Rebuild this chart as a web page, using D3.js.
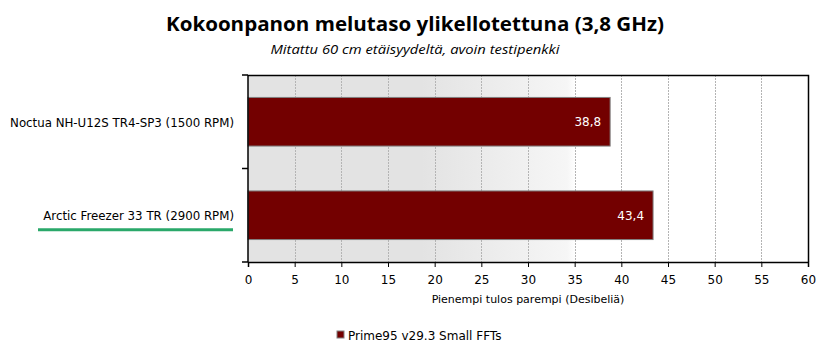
<!DOCTYPE html>
<html><head><meta charset="utf-8">
<script src="https://cdn.jsdelivr.net/npm/d3@7"></script>
<style>body{margin:0;background:#fff}svg{display:block}</style>
</head><body>
<svg id="c" width="830" height="358"></svg>
<script>
const categories = ["Noctua NH-U12S TR4-SP3 (1500 RPM)", "Arctic Freezer 33 TR (2900 RPM)"];
const values = [38.8, 43.4];
const valueLabels = ["38,8", "43,4"];
const xTicks = [0,5,10,15,20,25,30,35,40,45,50,55,60];
const seriesName = "Prime95 v29.3 Small FFTs";
const titleText = "Kokoonpanon melutaso ylikellotettuna (3,8 GHz)";
const subtitleText = "Mitattu 60 cm etäisyydeltä, avoin testipenkki";
const xTitle = "Pienempi tulos parempi (Desibeliä)";
const highlighted = "Arctic Freezer 33 TR (2900 RPM)";

const svg = d3.select("#c");
const m = {l:248, r:808, t:75, b:262};
const font = "'DejaVu Sans', sans-serif";
const x = d3.scaleLinear().domain([0,60]).range([m.l, m.r]);
const y = d3.scaleBand().domain(categories).range([m.t, m.b]).paddingInner(0.48).paddingOuter(0.24);
const yb = d3.scaleBand().domain(categories).range([m.t, m.b]);

const defs = svg.append("defs");
const g = defs.append("linearGradient").attr("id","bg").attr("x1","0").attr("x2","1").attr("y1","0").attr("y2","0");
[[0,"#e3e3e3"],[0.31,"#e3e3e3"],[0.57,"#f6f6f6"],[0.585,"#ffffff"],[1,"#ffffff"]].forEach(([o,c])=>g.append("stop").attr("offset",o).attr("stop-color",c));
svg.append("rect").attr("x",m.l).attr("y",m.t).attr("width",m.r-m.l).attr("height",m.b-m.t).attr("fill","url(#bg)");

// grid
svg.append("g").selectAll("line").data(xTicks.filter(d=>d>0 && d<60)).join("line")
  .attr("x1",d=>Math.round(x(d))+0.5).attr("x2",d=>Math.round(x(d))+0.5)
  .attr("y1",m.t).attr("y2",m.b).attr("stroke","#b4b4b4").attr("stroke-dasharray","2,1");

// bars
svg.append("g").selectAll("rect").data(categories).join("rect")
  .attr("x",m.l).attr("y",d=>y(d)).attr("width",(d,i)=>x(values[i])-m.l).attr("height",y.bandwidth())
  .attr("fill","#730000").attr("stroke","#808080").attr("stroke-width",1);

svg.append("g").selectAll("text").data(categories).join("text")
  .attr("x",(d,i)=>x(values[i])-9).attr("y",d=>y(d)+y.bandwidth()/2+4.5)
  .attr("text-anchor","end").attr("fill","#fff").attr("font-family",font).attr("font-size",12)
  .text((d,i)=>valueLabels[i]);

// frame top/right
svg.append("path").attr("d",`M${m.l},${m.t+0.5}H${m.r+0.5}V${m.b}`).attr("fill","none").attr("stroke","#000").attr("stroke-width",1.5);

// x axis
const xa = svg.append("g").attr("transform",`translate(0,${m.b})`)
  .call(d3.axisBottom(x).tickValues(xTicks).tickSize(5).tickPadding(8));
xa.select(".domain").attr("stroke","#000").attr("stroke-width",1.5);
xa.selectAll("text").attr("font-family",font).attr("font-size",12).attr("fill","#000");

// y axis
const ya = svg.append("g").attr("transform",`translate(${m.l},0)`);
ya.append("line").attr("x1",0).attr("x2",0).attr("y1",m.t).attr("y2",m.b).attr("stroke","#000").attr("stroke-width",1.5);
const yTickPos = [m.t, ...categories.slice(1).map(c=>yb(c)), m.b];
ya.selectAll("line.t").data(yTickPos).join("line").attr("class","t")
  .attr("x1",-6).attr("x2",0).attr("y1",d=>d).attr("y2",d=>d).attr("stroke","#000").attr("stroke-width",1.5);

svg.append("g").selectAll("text").data(categories).join("text")
  .attr("x",234).attr("y",d=>yb(d)+yb.bandwidth()/2+5).attr("text-anchor","end")
  .attr("font-family",font).attr("font-size",11.8).attr("fill","#000").text(d=>d);

svg.append("line").attr("x1",38).attr("x2",233).attr("y1",y(highlighted)+y.bandwidth()/2+14.5).attr("y2",y(highlighted)+y.bandwidth()/2+14.5)
  .attr("stroke","#2aa86a").attr("stroke-width",3);

// titles
svg.append("text").attr("x",415).attr("y",31).attr("text-anchor","middle").attr("font-family","'Open Sans', sans-serif")
  .attr("font-weight","bold").attr("font-size",20).attr("fill","#000").attr("textLength",498).attr("lengthAdjust","spacingAndGlyphs").text(titleText);
svg.append("text").attr("x",415).attr("y",54).attr("text-anchor","middle").attr("font-family","'Open Sans', sans-serif")
  .attr("font-style","italic").attr("font-size",13).attr("fill","#000").attr("textLength",289).attr("lengthAdjust","spacingAndGlyphs").text(subtitleText);

svg.append("text").attr("x",528).attr("y",303).attr("text-anchor","middle").attr("font-family",font).attr("font-size",11).attr("fill","#000").text(xTitle);

// legend
svg.append("rect").attr("x",337).attr("y",331).attr("width",7).attr("height",7).attr("fill","#730000").attr("stroke","#808080");
svg.append("text").attr("x",348).attr("y",340).attr("font-family",font).attr("font-size",12).attr("fill","#000").text(seriesName);
</script>
</body></html>
